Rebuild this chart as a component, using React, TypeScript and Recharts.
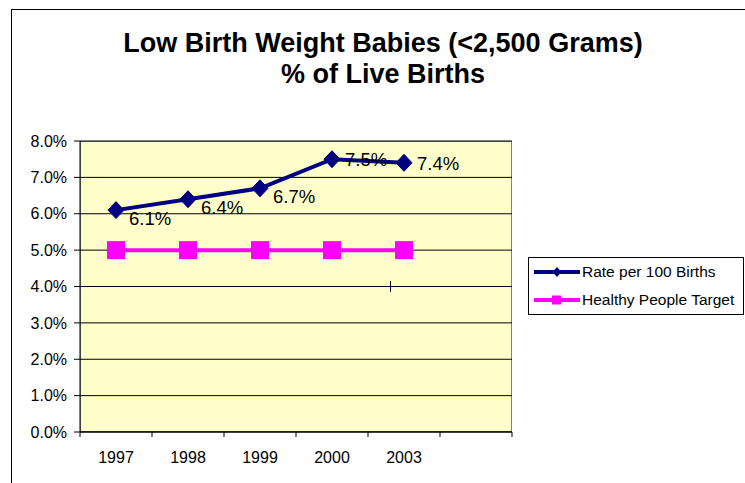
import React from 'react';
import { LineChart, Line, XAxis, YAxis, CartesianGrid } from 'recharts';

const years = ['1997', '1998', '1999', '2000', '2003', ''];
const ratePer100 = [6.1, 6.4, 6.7, 7.5, 7.4, null];
const healthyTarget = [5.0, 5.0, 5.0, 5.0, 5.0, null];
const yTicks = [0, 1, 2, 3, 4, 5, 6, 7, 8];

const data = years.map((year, i) => ({
  year,
  rate: ratePer100[i],
  target: healthyTarget[i],
}));

const font = '"Liberation Sans", Arial, sans-serif';
const navy = '#000080';
const magenta = '#FF00FF';
const band = 72;

// plot area box (Excel style)
const plot = { left: 80, top: 141, right: 512, bottom: 432 };

const Diamond = (props: any) => {
  const { cx, cy } = props;
  if (cx == null || cy == null) return null;
  return <polygon points={`${cx},${cy - 8.5} ${cx + 8},${cy} ${cx},${cy + 8.5} ${cx - 8},${cy}`} fill={navy} stroke={navy} />;
};

const Square = (props: any) => {
  const { cx, cy } = props;
  if (cx == null || cy == null) return null;
  return <rect x={cx - 9} y={cy - 9} width={18} height={18} fill={magenta} />;
};

const RateLabel = (props: any) => {
  const { x, y, value, index } = props;
  if (value == null) return null;
  const dy = index < 3 ? 15 : 7;
  return (
    <text x={x + 13} y={y + dy} fontSize={18.5} fontFamily={font} fill="#000">
      {`${Number(value).toFixed(1)}%`}
    </text>
  );
};

const XTick = (props: any) => {
  const { x, y, payload, index } = props;
  const last = index === years.length - 1;
  return (
    <g>
      <line x1={x - band / 2} x2={x - band / 2} y1={y} y2={y + 5} stroke="#000" />
      {last && <line x1={x + band / 2} x2={x + band / 2} y1={y} y2={y + 5} stroke="#000" />}
      <text x={x} y={y + 31} textAnchor="middle" fontSize={16} fontFamily={font} fill="#000">
        {payload.value}
      </text>
    </g>
  );
};

const legendItems = [
  { name: 'Rate per 100 Births', color: navy, shape: 'diamond' },
  { name: 'Healthy People Target', color: magenta, shape: 'square' },
];

const LegendBox = () => (
  <div
    style={{
      position: 'absolute',
      left: 528,
      top: 257,
      width: 216,
      height: 58,
      border: '1px solid #000',
      background: '#fff',
      boxSizing: 'border-box',
      padding: '0 0 0 5px',
      fontFamily: font,
      fontSize: 15.5,
    }}
  >
    {legendItems.map((it) => (
      <div key={it.name} style={{ display: 'flex', alignItems: 'center', height: 28 }}>
        <svg width={46} height={12}>
          <line x1={0} x2={46} y1={6} y2={6} stroke={it.color} strokeWidth={4} />
          {it.shape === 'diamond' ? (
            <polygon points="23,1 27.5,6 23,11 18.5,6" fill={it.color} />
          ) : (
            <rect x={18} y={1.5} width={9} height={9} fill={it.color} />
          )}
        </svg>
        <span style={{ marginLeft: 2, whiteSpace: 'nowrap' }}>{it.name}</span>
      </div>
    ))}
  </div>
);

export default function App() {
  return (
    <div style={{ position: 'absolute', left: 0, top: 0, width: 745, height: 483, overflow: 'hidden', background: '#fff' }}>
      <div style={{ position: 'absolute', left: 11, top: 9, width: 800, height: 600, border: '1.5px solid #000' }} />
      <div style={{ position: 'absolute', left: 0, width: 766, top: 28, textAlign: 'center', fontFamily: font, fontWeight: 'bold', fontSize: 27, lineHeight: '31px', color: '#000' }}>
        Low Birth Weight Babies (&lt;2,500 Grams)
        <br />
        % of Live Births
      </div>
      <div
        style={{
          position: 'absolute',
          left: plot.left,
          top: plot.top,
          width: plot.right - plot.left,
          height: plot.bottom - plot.top,
          background: '#FFFFCC',
          border: '1px solid #808080',
          boxSizing: 'border-box',
        }}
      />
      <div style={{ position: 'absolute', left: 0, top: 0 }}>
        <LineChart
          width={745}
          height={483}
          data={data}
          margin={{ top: plot.top, right: 745 - plot.right, bottom: 0, left: 0 }}
        >
          <CartesianGrid vertical={false} stroke="#000" strokeWidth={1} />
          <XAxis
            dataKey="year"
            tick={<XTick />}
            tickLine={false}
            tickSize={0}
            tickMargin={0}
            axisLine={{ stroke: '#000' }}
            interval={0}
            height={483 - plot.bottom}
            padding={{ left: band / 2, right: band / 2 }}
          />
          <YAxis
            domain={[0, 8]}
            ticks={yTicks}
            width={plot.left}
            tickSize={6}
            tickMargin={7}
            tickFormatter={(v: number) => `${v.toFixed(1)}%`}
            tick={{ fontSize: 16, fontFamily: font, fill: '#000' }}
            tickLine={{ stroke: '#000' }}
            axisLine={{ stroke: '#000' }}
            interval={0}
          />
          <Line
            dataKey="target"
            name="Healthy People Target"
            stroke={magenta}
            strokeWidth={4}
            dot={<Square />}
            activeDot={false}
            isAnimationActive={false}
          />
          <Line
            dataKey="rate"
            name="Rate per 100 Births"
            stroke={navy}
            strokeWidth={4}
            dot={<Diamond />}
            activeDot={false}
            label={<RateLabel />}
            isAnimationActive={false}
          />
        </LineChart>
      </div>
      <LegendBox />
      <div style={{ position: 'absolute', left: 390, top: 281, width: 1, height: 11, background: '#000' }} />
    </div>
  );
}
